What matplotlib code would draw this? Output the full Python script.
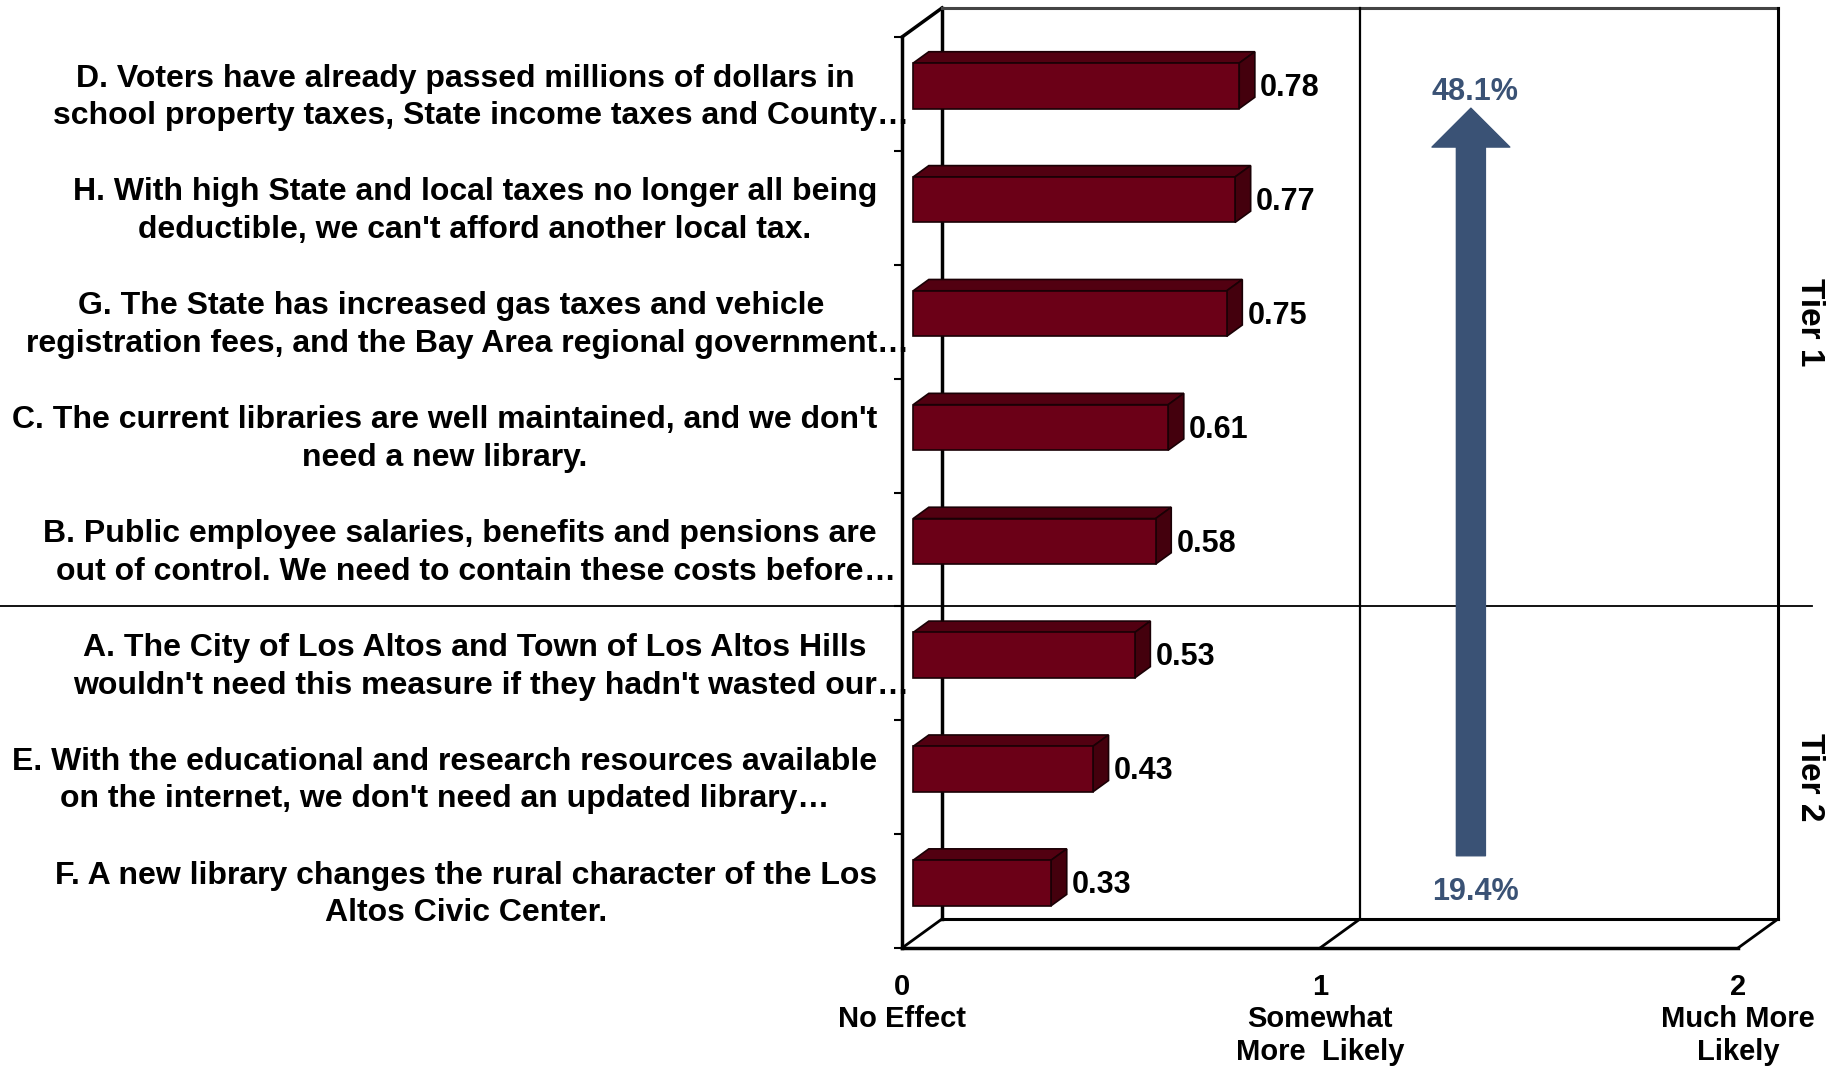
import numpy as np
import matplotlib
matplotlib.use("Agg")
import matplotlib.pyplot as plt
from matplotlib.transforms import offset_copy, blended_transform_factory

# データ
labels = [
    "D. Voters have already passed millions of dollars in\nschool property taxes, State income taxes and County…",
    "H. With high State and local taxes no longer all being\ndeductible, we can't afford another local tax.",
    "G. The State has increased gas taxes and vehicle\nregistration fees, and the Bay Area regional government…",
    "C. The current libraries are well maintained, and we don't\nneed a new library.",
    "B. Public employee salaries, benefits and pensions are\nout of control. We need to contain these costs before…",
    "A. The City of Los Altos and Town of Los Altos Hills\nwouldn't need this measure if they hadn't wasted our…",
    "E. With the educational and research resources available\non the internet, we don't need an updated library…",
    "F. A new library changes the rural character of the Los\nAltos Civic Center.",
]
values = [0.78, 0.77, 0.75, 0.61, 0.58, 0.53, 0.43, 0.33]
tier_names = ["Tier 1", "Tier 2"]
tier_sizes = [5, 3]
xticks = [0, 1, 2]
xticklabels = ["0\nNo Effect", "1\nSomewhat\nMore  Likely", "2\nMuch More\nLikely"]
pct_low = 19.4
pct_high = 48.1

# 色
bar_front = "#6B0017"
bar_top = "#520011"
bar_side = "#44000D"
arrow_col = "#3A5275"

plt.rcParams['font.family'] = ['Liberation Sans', 'DejaVu Sans']

W, H = 1833, 1068
fig = plt.figure(figsize=(W / 100, H / 100), dpi=100)
ax = fig.add_axes([902 / W, 120 / H, 836 / W, 911 / H])
n = len(values)
ax.set_xlim(0, 2)
ax.set_ylim(n - 0.5, -0.5)
for s in ax.spines.values():
    s.set_visible(False)
ax.patch.set_visible(False)

# 奥行き方向のずれ (データ座標)
DX = 40 / 418
DY = 29 / (911 / n)
D0, D1 = 0.28, 0.67   # 棒の手前と奥
bh = 0.40

def proj(x, y, d):
    return x + d * DX, y - d * DY

def line3d(p, q, lw=2.2, color="black"):
    (x1, y1), (x2, y2) = proj(*p), proj(*q)
    ax.plot([x1, x2], [y1, y2], color=color, lw=lw, clip_on=False,
            solid_capstyle="projecting", zorder=2)

top, bot = -0.5, n - 0.5
# 枠
line3d((0, top, 0), (0, bot, 0), lw=2.5)
line3d((0, top, 0), (0, top, 1), lw=2.5)
line3d((0, top, 1), (0, bot, 1), lw=2.5)
line3d((0, top, 1), (2, top, 1), lw=2.2, color="#444444")
line3d((2, top, 1), (2, bot, 1), lw=2.2)
line3d((1, top, 1), (1, bot, 1), lw=1.6)
line3d((0, bot, 1), (2, bot, 1), lw=2.2)
line3d((0, bot, 0), (2, bot, 0), lw=2.5)
for xv in xticks:
    line3d((xv, bot, 0), (xv, bot, 1), lw=2.0)

# Tier の区切り線
trans_fy = blended_transform_factory(fig.transFigure, ax.transData)
ax.plot([0, 1812 / W], [tier_sizes[0] - 0.5] * 2, color="black", lw=1.3,
        transform=trans_fy, clip_on=False, zorder=2)

# 3D の棒
for i, v in enumerate(values):
    y0, y1 = i - bh / 2, i + bh / 2
    front = [proj(0, y0, D0), proj(v, y0, D0), proj(v, y1, D0), proj(0, y1, D0)]
    topf = [proj(0, y0, D0), proj(v, y0, D0), proj(v, y0, D1), proj(0, y0, D1)]
    side = [proj(v, y0, D0), proj(v, y0, D1), proj(v, y1, D1), proj(v, y1, D0)]
    for poly, c in [(topf, bar_top), (side, bar_side), (front, bar_front)]:
        xs, ys = zip(*poly)
        ax.fill(xs, ys, facecolor=c, edgecolor="#1A0005", lw=1.2,
                clip_on=False, zorder=3)
    lx, _ = proj(v, i, D1)
    _, ly = proj(v, i, D0)
    ax.text(lx + 0.012, ly + 0.02, f"{v:.2f}", fontsize=22, fontweight="bold",
            ha="left", va="center", zorder=4)

# 軸の目盛
ax.set_yticks(np.arange(n + 1) - 0.5)
ax.tick_params(axis="y", length=6, width=1.5, direction="out", labelleft=False)
ax.set_xticks(xticks, xticklabels)
ax.tick_params(axis="x", length=0, pad=18)
for t in ax.get_xticklabels():
    t.set_fontsize(21)
    t.set_fontweight("bold")

# 項目ラベル (中央揃え、右端をそろえる)
renderer = fig.canvas.get_renderer()

def text_width(s):
    t = fig.text(0, 0, s, fontsize=23, fontweight="bold")
    w = t.get_window_extent(renderer).width
    t.remove()
    return w

right_x = -25 / 418
for i, lab in enumerate(labels):
    l1, l2 = lab.split("\n")
    w1, w2 = text_width(l1), text_width(l2)
    hang = l2.endswith("…") and w2 > w1
    if hang:
        l2 = l2[:-1]
        w2 = text_width(l2)
    w = max(w1, w2)
    tr = offset_copy(ax.transData, fig, x=-w / 2, units="dots")
    ax.text(right_x, i - 0.135, l1, transform=tr, fontsize=23, fontweight="bold",
            ha="center", va="center", clip_on=False)
    t2 = ax.text(right_x, i + 0.195, l2, transform=tr, fontsize=23, fontweight="bold",
                 ha="center", va="center", clip_on=False)
    if hang:
        ax.annotate("…", xy=(1, 0), xycoords=t2, fontsize=23, fontweight="bold",
                    ha="left", va="bottom")

# 矢印と%
arrow_x = 1.361
ax.annotate("", xy=(arrow_x, 0.125), xytext=(arrow_x, 6.69),
            arrowprops=dict(arrowstyle="simple,head_width=2.68,head_length=1.34,tail_width=1",
                            mutation_scale=20.9, color=arrow_col, shrinkA=0, shrinkB=0),
            zorder=5)
ax.text(arrow_x + 0.01, -0.015, f"{pct_high:.1f}%", fontsize=22, fontweight="bold",
        color=arrow_col, ha="center", va="center", zorder=6)
ax.text(arrow_x + 0.01, 7.01, f"{pct_low:.1f}%", fontsize=22, fontweight="bold",
        color=arrow_col, ha="center", va="center", zorder=6)

# Tier ラベル
start = 0
for name, size in zip(tier_names, tier_sizes):
    yc = start + (size - 1) / 2
    ax.text(2.172, yc, name, fontsize=24, fontweight="bold", rotation=270,
            ha="center", va="center", clip_on=False)
    start += size

fig.savefig("out.png", dpi=100)
